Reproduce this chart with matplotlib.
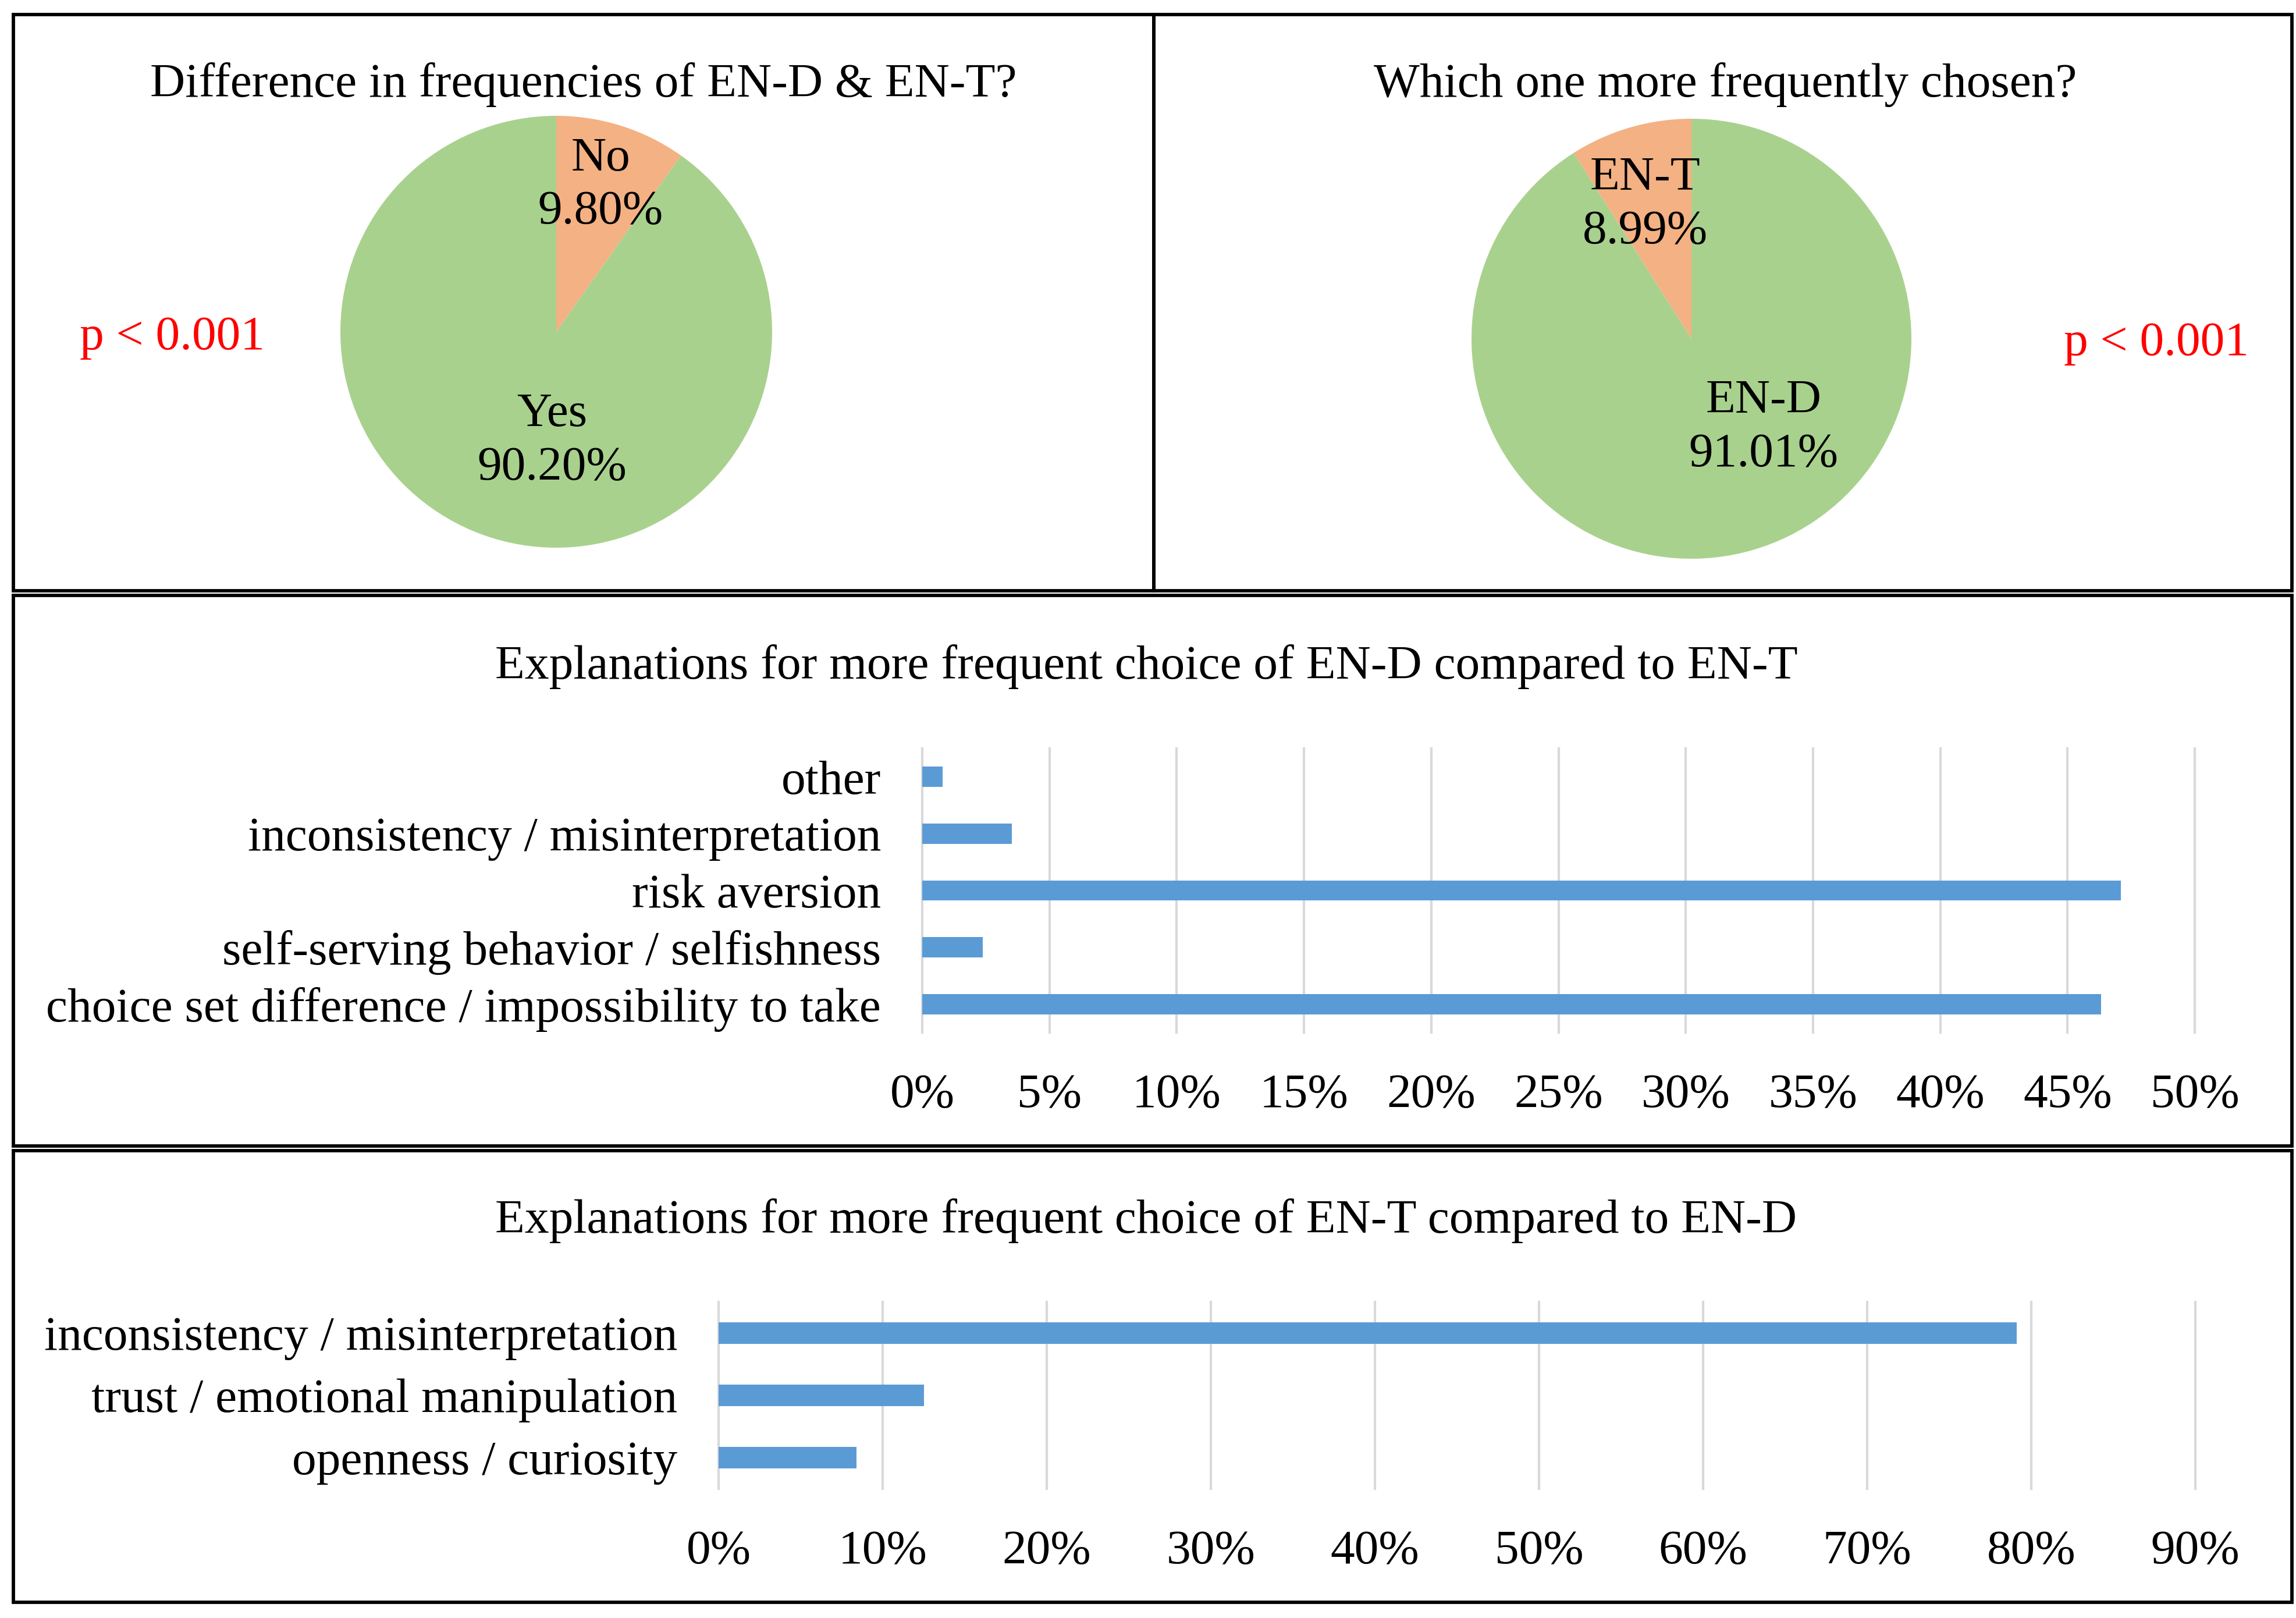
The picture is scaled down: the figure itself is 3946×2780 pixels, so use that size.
import numpy as np
import matplotlib
matplotlib.use("Agg")
import matplotlib.pyplot as plt
from matplotlib.patches import Rectangle
from matplotlib.ticker import PercentFormatter

# pie data (Excel order: first slice starts at 12 o'clock, clockwise)
pie1_labels = ["No", "Yes"]
pie1_values = [9.80, 90.20]
pie2_labels = ["EN-D", "EN-T"]
pie2_values = [91.01, 8.99]
pie1_title = "Difference in frequencies of EN-D & EN-T?"
pie2_title = "Which one more frequently chosen?"
p_text = "p < 0.001"

# bar data, listed bottom to top
d_title = "Explanations for more frequent choice of EN-D compared to EN-T"
d_cats = ["choice set difference / impossibility to take",
          "self-serving behavior / selfishness",
          "risk aversion",
          "inconsistency / misinterpretation",
          "other"]
d_vals = [0.4633, 0.0237, 0.4710, 0.0352, 0.0079]
d_ticks = np.arange(0, 0.51, 0.05)

t_title = "Explanations for more frequent choice of EN-T compared to EN-D"
t_cats = ["openness / curiosity",
          "trust / emotional manipulation",
          "inconsistency / misinterpretation"]
t_vals = [0.084, 0.125, 0.791]
t_ticks = np.arange(0, 0.91, 0.10)

plt.rcParams['font.family'] = ['Liberation Serif', 'DejaVu Serif']
FS = 20
ORANGE = "#F4B183"
GREEN = "#A9D18E"
BLUE = "#5B9BD5"
GRID = "#D9D9D9"

W, H = 3946, 2780
fig = plt.figure(figsize=(W / 300, H / 300), dpi=300)


def fx(x):
    return x / W


def fy(y):
    return 1 - y / H


def box(x0, y0, x1, y1):
    fig.add_artist(Rectangle((fx(x0), fy(y1)), (x1 - x0) / W, (y1 - y0) / H,
                             fill=False, lw=1.4, ec="black",
                             transform=fig.transFigure))


box(23, 25, 1983, 1015)
box(1983, 25, 3939, 1015)
box(23, 1023, 3939, 1969)
box(23, 1977, 3939, 2753)


def draw_pie(cx, cy, r, labels, values, colors, label_pos):
    ax = fig.add_axes([fx(cx - r), fy(cy + r), 2 * r / W, 2 * r / H])
    ax.pie(values, colors=colors, startangle=90, counterclock=False,
           wedgeprops=dict(linewidth=0))
    ax.set_xlim(-1, 1)
    ax.set_ylim(-1, 1)
    ax.axis("off")
    for lab, v, (lx, ly) in zip(labels, values, label_pos):
        ax.text(lx, ly, f"{lab}\n{v:.2f}%", ha="center", va="center",
                fontsize=FS, linespacing=1.28)
    return ax


draw_pie(956, 570, 371, pie1_labels, pie1_values, [ORANGE, GREEN],
         [(0.205, 0.677), (-0.019, -0.507)])
draw_pie(2907, 582, 378, pie2_labels, pie2_values, [GREEN, ORANGE],
         [(0.328, -0.405), (-0.209, 0.608)])

fig.text(fx(1003), fy(145), pie1_title, ha="center", va="center", fontsize=FS)
fig.text(fx(2965), fy(145), pie2_title, ha="center", va="center", fontsize=FS)
fig.text(fx(296), fy(580), p_text, ha="center", va="center", fontsize=FS, color="red")
fig.text(fx(3706), fy(590), p_text, ha="center", va="center", fontsize=FS, color="red")


def draw_bars(x0, x1, y0, y1, cats, vals, ticks, title, title_y):
    ax = fig.add_axes([fx(x0), fy(y1), (x1 - x0) / W, (y1 - y0) / H])
    pos = np.arange(len(cats))
    ax.barh(pos, vals, height=0.355, color=BLUE, zorder=2)
    ax.set_xlim(ticks[0], ticks[-1])
    ax.set_ylim(-0.5, len(cats) - 0.5)
    ax.set_xticks(ticks)
    ax.xaxis.set_major_formatter(PercentFormatter(1.0, decimals=0))
    ax.set_yticks(pos)
    ax.set_yticklabels(cats)
    ax.tick_params(axis="both", length=0, labelsize=FS)
    ax.tick_params(axis="x", pad=17)
    ax.tick_params(axis="y", pad=17)
    for s in ax.spines.values():
        s.set_visible(False)
    for t in ticks:
        ax.axvline(t, color=GRID, lw=1.0, zorder=1, clip_on=False)
    fig.text(fx(1970), fy(title_y), title, ha="center", va="center", fontsize=FS)
    return ax


draw_bars(1585, 3772, 1286, 1774, d_cats, d_vals, d_ticks, d_title, 1145)
draw_bars(1235, 3773, 2237, 2558, t_cats, t_vals, t_ticks, t_title, 2097)

fig.savefig("out.png", dpi=300, facecolor="white")
